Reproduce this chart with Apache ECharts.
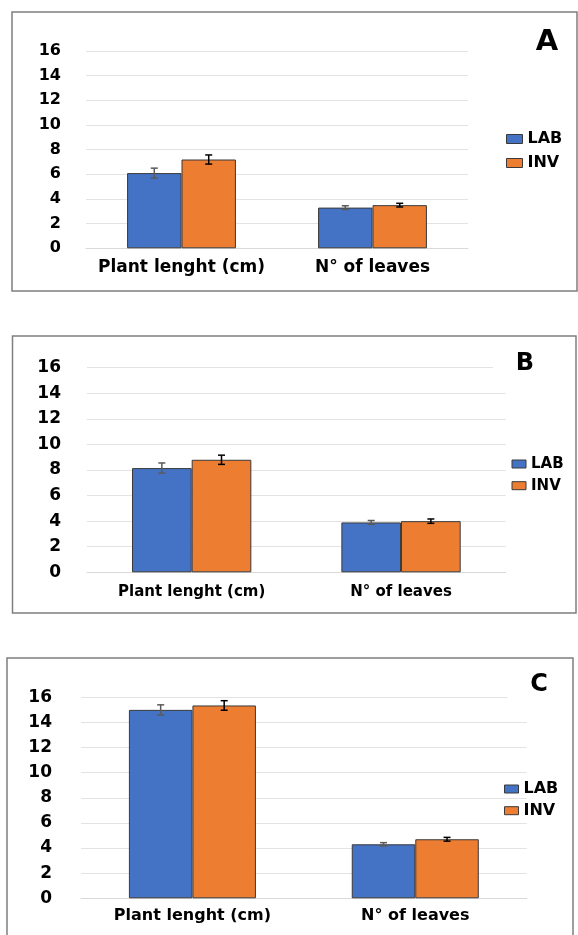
<!DOCTYPE html>
<html>
<head>
<meta charset="utf-8">
<script src="https://cdn.jsdelivr.net/npm/echarts@6/dist/echarts.min.js"></script>
<style>
html,body{margin:0;padding:0;background:#fff;}
#chart{width:578px;height:935px;}
</style>
</head>
<body>
<div id="chart"></div>
<script>
// ---- Data ----
const categories = ['Plant lenght (cm)', 'N° of leaves'];
const seriesNames = ['LAB', 'INV'];
const yTicks = [0, 2, 4, 6, 8, 10, 12, 14, 16];
const panelLabels = ['A', 'B', 'C'];

const A_LAB = [6.1, 3.3];
const A_LAB_err = [0.4, 0.15];
const A_INV = [7.2, 3.5];
const A_INV_err = [0.37, 0.15];

const B_LAB = [8.15, 3.9];
const B_LAB_err = [0.4, 0.15];
const B_INV = [8.8, 4.0];
const B_INV_err = [0.36, 0.17];

const C_LAB = [15.0, 4.3];
const C_LAB_err = [0.4, 0.13];
const C_INV = [15.35, 4.7];
const C_INV_err = [0.38, 0.15];

// ---- Layout (styles/positions) ----
const FONT = "'DejaVu Sans', Verdana, sans-serif";
const BLUE = '#4472C4', ORANGE = '#ED7D31';
const GAP = 0.43;
const panels = [
  {grid:{left:86, right:110, top:51, bottom:686.7}, yFont:16, yMargin:25, xFont:17, xMargin:11,
   lab:A_LAB, labErr:A_LAB_err, inv:A_INV, invErr:A_INV_err,
   legend:{left:506, top:131, w:16, h:9, font:16, lh:16, gap:8},
   title:{x:547, y:42, size:29}, titleBg:null,
   box:{x:12, y:12, w:565, h:279}},
  {grid:{left:87, right:72.3, top:367.7, bottom:362.7}, yFont:17, yMargin:26, xFont:15, xMargin:12,
   lab:B_LAB, labErr:B_LAB_err, inv:B_INV, invErr:B_INV_err,
   legend:{left:511.5, top:456.5, w:14, h:8, font:15, lh:15, gap:6.7},
   title:{x:525, y:363.5, size:24}, titleBg:{x:493, y:350, w:60, h:26},
   box:{x:12.5, y:336, w:563.5, h:277}},
  {grid:{left:81, right:51.3, top:697.3, bottom:36.7}, yFont:17, yMargin:29, xFont:16, xMargin:10,
   lab:C_LAB, labErr:C_LAB_err, inv:C_INV, invErr:C_INV_err,
   legend:{left:504, top:781, w:14, h:8, font:16, lh:16, gap:5.7},
   title:{x:539, y:684.5, size:24}, titleBg:{x:507.5, y:672, w:55, h:28},
   box:{x:7, y:658, w:566, h:300}}
];

function errRender(sign, color){
  return function(params, api){
    const ci = api.value(0), v = api.value(1), e = api.value(2);
    const band = api.size([1, 0])[0];
    const bw = band * (1 - GAP) / 2;
    const cx = api.coord([ci, v])[0] + sign * bw / 2;
    const yT = api.coord([ci, v + e])[1];
    const yB = api.coord([ci, v - e])[1];
    const cap = 3.5;
    const st = {stroke: color, lineWidth: 1.5};
    return {type:'group', children:[
      {type:'line', shape:{x1:cx, y1:yT, x2:cx, y2:yB}, style:st},
      {type:'line', shape:{x1:cx-cap, y1:yT, x2:cx+cap, y2:yT}, style:st},
      {type:'line', shape:{x1:cx-cap, y1:yB, x2:cx+cap, y2:yB}, style:st}
    ]};
  };
}

const grids = [], xAxes = [], yAxes = [], series = [], legends = [], graphics = [];
panels.forEach((p, i) => {
  grids.push(p.grid);
  xAxes.push({type:'category', gridIndex:i, data:categories,
    axisLine:{show:true, lineStyle:{color:'#d9d9d9', width:1}}, axisTick:{show:false},
    axisLabel:{interval:0, fontFamily:FONT, fontWeight:'bold', fontSize:p.xFont, color:'#000', margin:p.xMargin}});
  yAxes.push({type:'value', gridIndex:i, min:yTicks[0], max:yTicks[yTicks.length-1], interval:yTicks[1]-yTicks[0],
    axisLine:{show:false}, axisTick:{show:false},
    splitLine:{lineStyle:{color:'#e3e3e3', width:1}},
    axisLabel:{fontFamily:FONT, fontWeight:'bold', fontSize:p.yFont, color:'#000', margin:p.yMargin}});
  series.push({name:seriesNames[0], type:'bar', xAxisIndex:i, yAxisIndex:i, data:p.lab,
    barGap:'0%', barCategoryGap:(GAP*100)+'%',
    itemStyle:{color:BLUE, borderColor:'#3a3a3a', borderWidth:1}, z:2});
  series.push({name:seriesNames[1], type:'bar', xAxisIndex:i, yAxisIndex:i, data:p.inv,
    barGap:'0%', barCategoryGap:(GAP*100)+'%',
    itemStyle:{color:ORANGE, borderColor:'#3a3a3a', borderWidth:1}, z:2});
  series.push({type:'custom', xAxisIndex:i, yAxisIndex:i, silent:true, z:5,
    data:p.lab.map((v, k) => [k, v, p.labErr[k]]), renderItem:errRender(-1, '#5a5a5a')});
  series.push({type:'custom', xAxisIndex:i, yAxisIndex:i, silent:true, z:5,
    data:p.inv.map((v, k) => [k, v, p.invErr[k]]), renderItem:errRender(1, '#000')});
  legends.push({orient:'vertical', left:p.legend.left, top:p.legend.top, padding:0,
    itemWidth:p.legend.w, itemHeight:p.legend.h, itemGap:p.legend.gap, icon:'rect',
    data:seriesNames, selectedMode:false,
    itemStyle:{borderWidth:1, borderColor:'#3a3a3a'},
    textStyle:{fontFamily:FONT, fontWeight:'bold', fontSize:p.legend.font, lineHeight:p.legend.lh, color:'#000'}});
  graphics.push({type:'rect', shape:{x:p.box.x, y:p.box.y, width:p.box.w, height:p.box.h},
    style:{fill:'none', stroke:'#7f7f7f', lineWidth:1.5}, z:50, silent:true});
  if (p.titleBg) graphics.push({type:'rect', shape:{x:p.titleBg.x, y:p.titleBg.y, width:p.titleBg.w, height:p.titleBg.h},
    style:{fill:'#fff'}, z:40, silent:true});
  graphics.push({type:'text', x:p.title.x, y:p.title.y, z:60, silent:true,
    style:{text:panelLabels[i], font:'bold '+p.title.size+'px '+FONT, fill:'#000', textAlign:'center', textVerticalAlign:'middle'}});
});

const chart = echarts.init(document.getElementById('chart'), null, {renderer:'canvas'});
chart.setOption({
  animation:false,
  backgroundColor:'#fff',
  grid:grids, xAxis:xAxes, yAxis:yAxes, series:series, legend:legends, graphic:graphics
});
</script>
</body>
</html>
